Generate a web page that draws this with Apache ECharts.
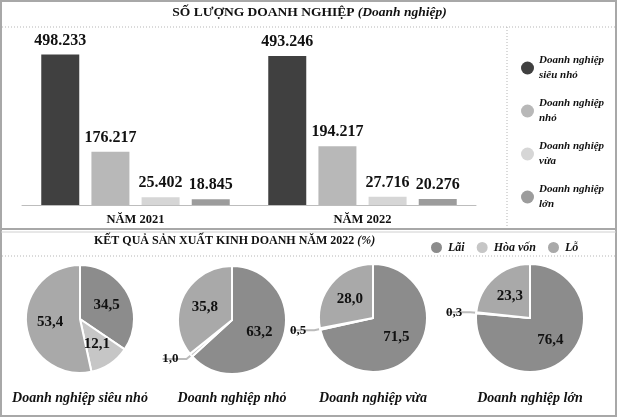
<!DOCTYPE html>
<html>
<head>
<meta charset="utf-8">
<script src="https://cdn.jsdelivr.net/npm/echarts@6/dist/echarts.min.js"></script>
<style>
  html, body { margin: 0; padding: 0; background: #fff; }
  #chart { width: 619px; height: 418px; }
</style>
</head>
<body>
<div id="chart"></div>
<script>
// số lượng doanh nghiệp
const years = ['NĂM 2021', 'NĂM 2022'];
const sieuNho = [498233, 493246];
const nho = [176217, 194217];
const vua = [25402, 27716];
const lon = [18845, 20276];
const barNames = ['Doanh nghiệp siêu nhỏ', 'Doanh nghiệp nhỏ', 'Doanh nghiệp vừa', 'Doanh nghiệp lớn'];

// kết quả sản xuất kinh doanh 2022 (%)
const pieNames = ['Doanh nghiệp siêu nhỏ', 'Doanh nghiệp nhỏ', 'Doanh nghiệp vừa', 'Doanh nghiệp lớn'];
const lai = [34.5, 63.2, 71.5, 76.4];
const hoaVon = [12.1, 1.0, 0.5, 0.3];
const lo = [53.4, 35.8, 28.0, 23.3];

const serif = '"Liberation Serif", "DejaVu Serif", serif';
const barColors = ['#404040', '#b8b8b8', '#d6d6d6', '#9c9c9c'];
const pieColors = { 'Lãi': '#8c8c8c', 'Hòa vốn': '#c6c6c6', 'Lỗ': '#a9a9a9' };
const pieCenters = [[80, 319], [232, 320], [373, 318], [530, 318]];

function fmtThousands(v) {
    return String(v).replace(/\B(?=(\d{3})+(?!\d))/g, '.');
}
function fmtPct(v) {
    return v.toFixed(1).replace('.', ',');
}

const chart = echarts.init(document.getElementById('chart'));

const barSeries = [sieuNho, nho, vua, lon].map((vals, i) => ({
    name: barNames[i],
    type: 'bar',
    data: vals,
    barWidth: 38,
    barGap: '32%',
    itemStyle: { color: barColors[i] },
    label: {
        show: true,
        position: 'top',
        distance: 6,
        formatter: p => fmtThousands(p.value),
        fontFamily: serif,
        fontWeight: 'bold',
        fontSize: 16,
        color: '#111'
    }
}));

const pieSeries = pieNames.map((name, i) => {
    const small = hoaVon[i] < 5;
    return {
        name: name,
        type: 'pie',
        radius: 54,
        center: pieCenters[i],
        startAngle: 90,
        clockwise: true,
        legendHoverLink: false,
        itemStyle: { borderColor: '#fff', borderWidth: 2 },
        label: {
            show: true,
            position: 'inside',
            formatter: p => fmtPct(p.value),
            fontFamily: serif,
            fontWeight: 'bold',
            fontSize: 15,
            color: '#111'
        },
        labelLine: { show: false },
        data: [
            { name: 'Lãi', value: lai[i], itemStyle: { color: pieColors['Lãi'] } },
            {
                name: 'Hòa vốn', value: hoaVon[i], itemStyle: { color: pieColors['Hòa vốn'] },
                label: small ? { position: 'outside', fontSize: 13, padding: [0, 0, 24, 0], distanceToLabelLine: -16 } : {},
                labelLine: small ? { show: true, length: 6, length2: 24, lineStyle: { color: '#bbb', width: 2 } } : {}
            },
            { name: 'Lỗ', value: lo[i], itemStyle: { color: pieColors['Lỗ'] } }
        ]
    };
});

const dotted = (x1, y1, x2, y2) => ({
    type: 'line',
    shape: { x1, y1, x2, y2 },
    style: { stroke: '#b5b5b5', lineWidth: 1, lineDash: [1, 2] },
    silent: true
});

const graphics = [
    { type: 'rect', shape: { x: 1, y: 1, width: 615, height: 415 }, style: { fill: 'none', stroke: '#a8a8a8', lineWidth: 2 } },
    { type: 'line', shape: { x1: 1, y1: 229, x2: 616, y2: 229 }, style: { stroke: '#a8a8a8', lineWidth: 2 } },
    { type: 'line', shape: { x1: 1, y1: 232, x2: 616, y2: 232 }, style: { stroke: '#d0d0d0', lineWidth: 1 } },
    dotted(2, 27, 615, 27),
    dotted(507, 27, 507, 228),
    dotted(2, 256, 615, 256),
    {
        type: 'text', left: 'center', top: 6,
        style: {
            text: '{b|SỐ LƯỢNG DOANH NGHIỆP }{i|(Doanh nghiệp)}',
            rich: {
                b: { fontFamily: serif, fontWeight: 'bold', fontSize: 13.5, fill: '#111' },
                i: { fontFamily: serif, fontWeight: 'bold', fontStyle: 'italic', fontSize: 13.5, fill: '#111' }
            }
        }
    },
    {
        type: 'text', x: 94, y: 235,
        style: {
            text: '{b|KẾT QUẢ SẢN XUẤT KINH DOANH NĂM 2022 }{i|(%)}',
            rich: {
                b: { fontFamily: serif, fontWeight: 'bold', fontSize: 12, fill: '#111' },
                i: { fontFamily: serif, fontWeight: 'bold', fontStyle: 'italic', fontSize: 12, fill: '#111' }
            }
        }
    }
];

pieNames.forEach((name, i) => {
    graphics.push({
        type: 'text',
        x: pieCenters[i][0],
        y: 391,
        style: {
            text: name,
            align: 'center',
            fontFamily: serif,
            fontWeight: 'bold',
            fontStyle: 'italic',
            fontSize: 14,
            fill: '#111'
        }
    });
});

chart.setOption({
    animation: false,
    backgroundColor: '#fff',
    legend: [
        {
            data: barNames,
            orient: 'vertical',
            left: 516,
            top: 48,
            itemWidth: 13,
            itemHeight: 13,
            itemGap: 13,
            icon: 'circle',
            formatter: n => n.replace('Doanh nghiệp ', 'Doanh nghiệp\n'),
            textStyle: { fontFamily: serif, fontWeight: 'bold', fontStyle: 'italic', fontSize: 11, lineHeight: 15, color: '#111' }
        },
        {
            data: ['Lãi', 'Hòa vốn', 'Lỗ'],
            orient: 'horizontal',
            left: 424,
            top: 235,
            itemWidth: 13,
            itemHeight: 13,
            itemGap: 10,
            icon: 'circle',
            selectedMode: false,
            textStyle: { fontFamily: serif, fontWeight: 'bold', fontStyle: 'italic', fontSize: 12, color: '#111' }
        }
    ],
    grid: { left: 22, right: 143, top: 54, bottom: 213, containLabel: false },
    xAxis: {
        type: 'category',
        data: years,
        axisLine: { lineStyle: { color: '#bdbdbd', width: 1 } },
        axisTick: { show: false },
        axisLabel: { fontFamily: serif, fontWeight: 'bold', fontSize: 12.5, color: '#111', margin: 8 }
    },
    yAxis: {
        type: 'value',
        min: 0,
        max: 500000,
        show: false
    },
    series: barSeries.concat(pieSeries),
    graphic: graphics
});
</script>
</body>
</html>
